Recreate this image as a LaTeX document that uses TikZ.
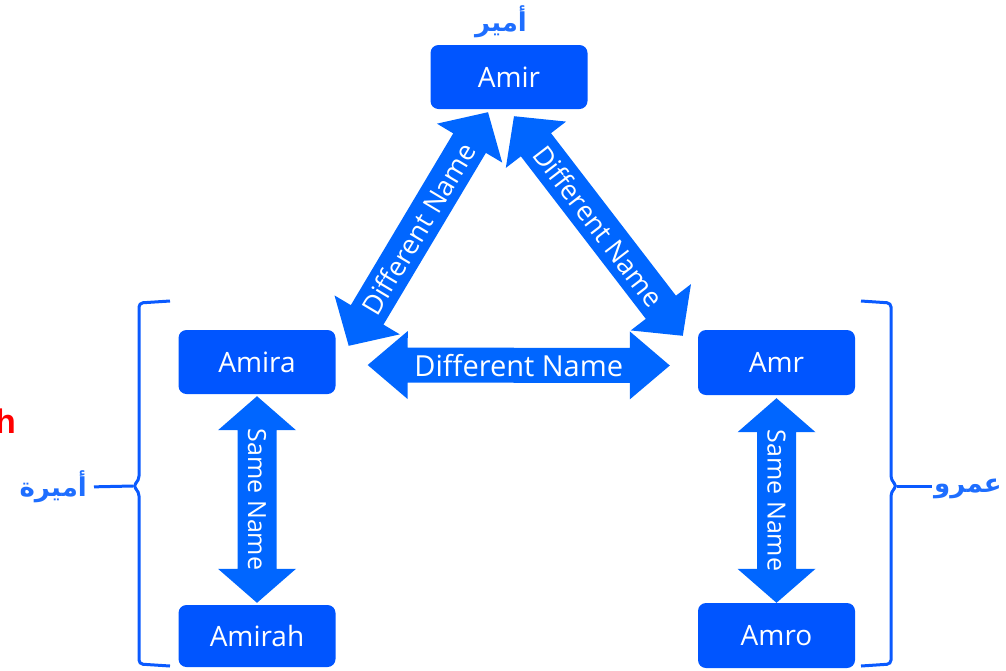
\documentclass[tikz,border=0pt]{standalone}
\usepackage{fontspec}
\setmainfont{Open Sans}
\newfontfamily\arabicfont[Script=Arabic]{DejaVu Sans}
\newfontfamily\latinbold{Liberation Sans}
\TeXXeTstate=1
\usetikzlibrary{calc}
\definecolor{boxblue}{RGB}{0,85,255}
\definecolor{arrowblue}{RGB}{0,102,255}
\definecolor{labelblue}{RGB}{30,110,255}
\definecolor{braceblue}{RGB}{10,90,255}
% #1 start, #2 end, #3 head length, #4 head half width, #5 shaft half width
\newcommand\fatarrow[5]{%
 \fill[arrowblue] (#1)
 -- ($(#1)!#3!(#2)!#4!90:(#2)$)
 -- ($(#1)!#3!(#2)!#5!90:(#2)$)
 -- ($(#2)!#3!(#1)!#5!-90:(#1)$)
 -- ($(#2)!#3!(#1)!#4!-90:(#1)$)
 -- (#2)
 -- ($(#2)!#3!(#1)!#4!90:(#1)$)
 -- ($(#2)!#3!(#1)!#5!90:(#1)$)
 -- ($(#1)!#3!(#2)!#5!-90:(#2)$)
 -- ($(#1)!#3!(#2)!#4!-90:(#2)$)
 -- cycle;}
\begin{document}
\begin{tikzpicture}[x=1pt,y=-1pt,
 namebox/.style={fill=boxblue, rounded corners=8pt, text=white, font=\fontsize{28}{30}\selectfont, inner sep=0pt, minimum width=157pt},
 arrowtext/.style={text=white, font=\fontsize{27}{29}\selectfont, inner sep=0pt},
 sametext/.style={text=white, font=\fontsize{25}{27}\selectfont, inner sep=0pt, rotate=-90},
 arlabel/.style={text=labelblue, font=\arabicfont\bfseries\fontsize{26}{30}\selectfont, inner sep=0pt},
 bracestyle/.style={draw=braceblue, line width=3pt, rounded corners=4pt},
 braceline/.style={draw=braceblue, line width=3pt}]
\useasboundingbox (0,0) rectangle (1006,670);

% boxes
\node[namebox, minimum height=64pt] (amir) at (509,77) {Amir};
\node[namebox, minimum height=64pt] (amira) at (257,362) {Amira};
\node[namebox, minimum height=62pt] (amirah) at (257,636) {Amirah};
\node[namebox, minimum height=65pt] (amr) at (776.5,362.5) {Amr};
\node[namebox, minimum height=65pt] (amro) at (776.5,635.5) {Amro};

% arrow end points
\coordinate (d1a) at ($(amir.south)+(-21,3)$);
\coordinate (d1b) at ($(amira.north east)+(13,16)$);
\coordinate (d2a) at ($(amir.south)+(5,7)$);
\coordinate (d2b) at ($(amr.north west)+(-15,6)$);
\coordinate (h1a) at ($(amira.east)+(32,3)$);
\coordinate (h1b) at ($(amr.west)+(-28,3)$);
\coordinate (v1a) at ($(amira.south)+(0,2)$);
\coordinate (v1b) at ($(amirah.north)+(0,-2)$);
\coordinate (v2a) at ($(amr.south)+(0,3)$);
\coordinate (v2b) at (amro.north);

% fat arrows
\fatarrow{d1a}{d1b}{36pt}{38pt}{19pt}
\fatarrow{d2a}{d2b}{36pt}{38pt}{19pt}
\fatarrow{h1a}{h1b}{40pt}{34pt}{17.5pt}
\fatarrow{v1a}{v1b}{34pt}{39pt}{19.5pt}
\fatarrow{v2a}{v2b}{34pt}{39pt}{19.5pt}

\path (d1a) -- (d1b) node[midway, sloped, arrowtext] {Different Name};
\path (d2a) -- (d2b) node[midway, sloped, arrowtext] {Different Name};
\path (h1a) -- (h1b) node[midway, sloped, arrowtext, font=\fontsize{29}{31}\selectfont] {Different Name};
\node[sametext] at ($(v1a)!0.5!(v1b)$) {Same Name};
\node[sametext] at ($(v2a)!0.5!(v2b)$) {Same Name};

% arabic labels
\node[arlabel] (lamir) at (501,22) {\beginR أمير\endR};
\node[arlabel, anchor=east] (lamira) at (87,487) {\beginR أميرة\endR};
\node[arlabel, anchor=west] (lamr) at (934,489) {\beginR عمرو\endR};

% red h
\node[text=red, font=\latinbold\bfseries\fontsize{34}{36}\selectfont, anchor=east, inner sep=0pt] (hh) at (16,421) {h};

% braces
\coordinate (lbt) at (133,486);
\draw[bracestyle] (170,301) -- (139,303) -- (139,480) -- (lbt) -- (139,492) -- (139,664) -- (170,666);
\draw[braceline, shorten <=7pt] (lamira.east) -- (lbt);
\coordinate (rbt) at (897,486);
\draw[bracestyle] (861,301) -- (891,303) -- (891,480) -- (rbt) -- (891,492) -- (891,664) -- (861,666);
\draw[braceline, shorten >=2pt] (rbt) -- (lamr.west |- rbt);
\end{tikzpicture}
\end{document}
